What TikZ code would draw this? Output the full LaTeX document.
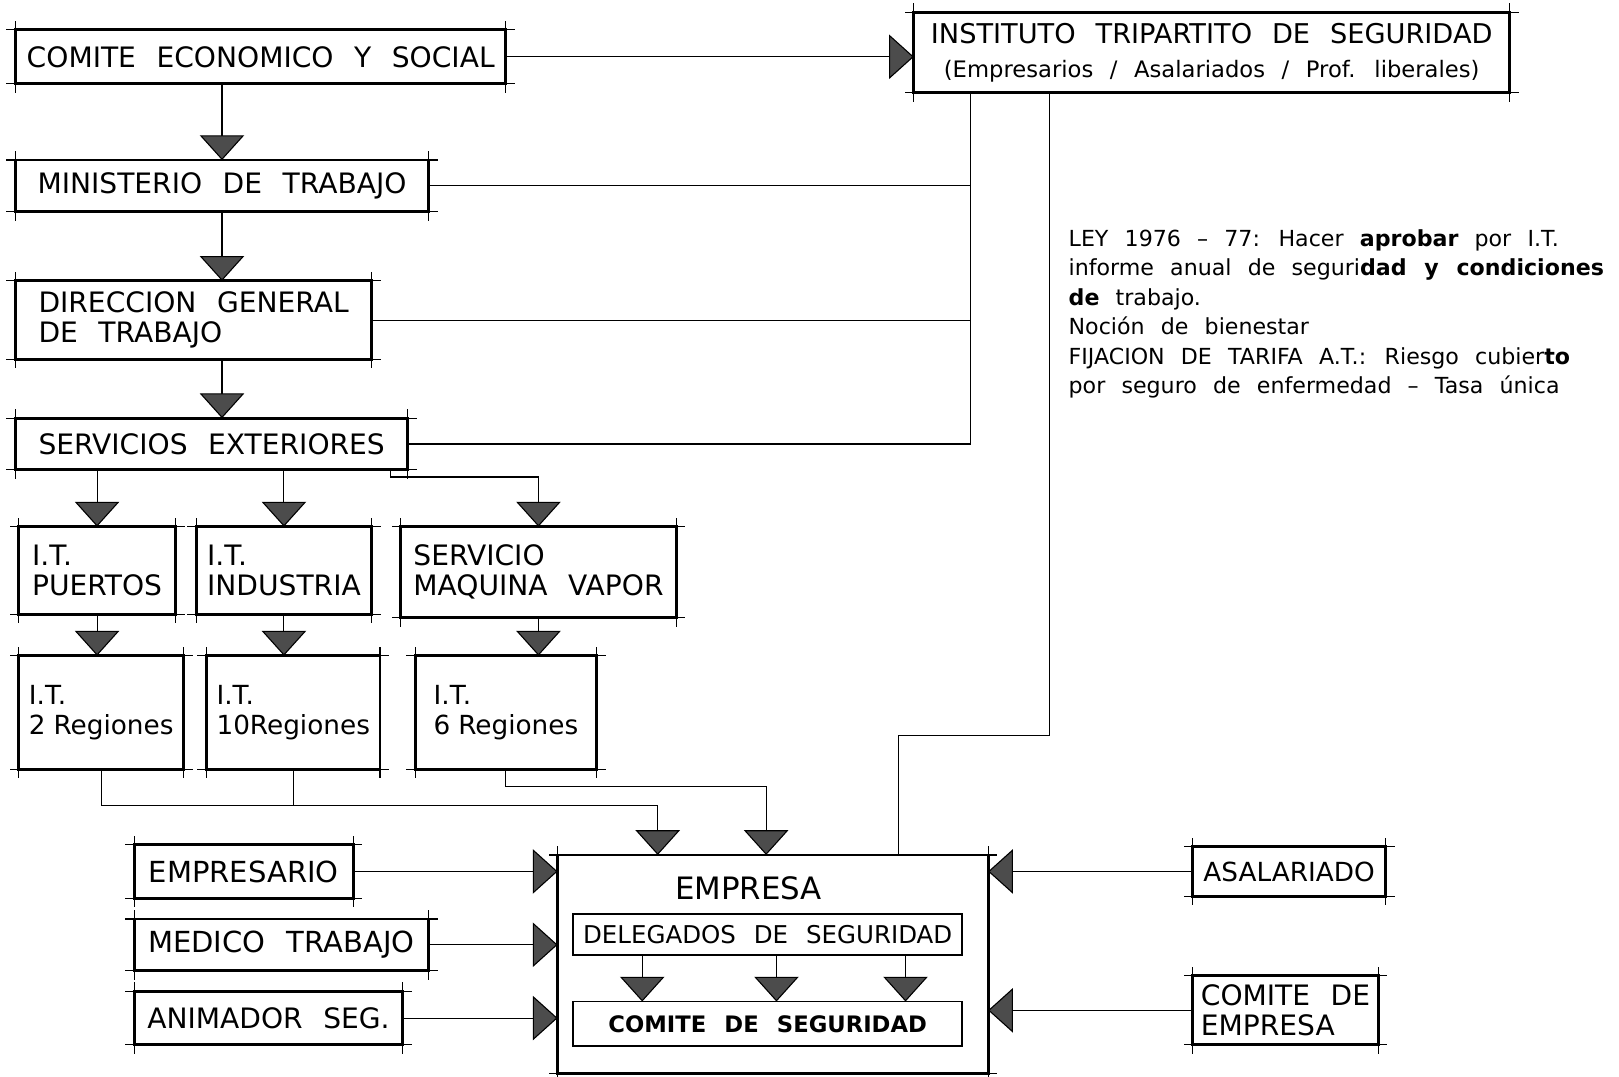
\documentclass[tikz,border=0pt]{standalone}
\usepackage{fontspec}
\setmainfont{DejaVu Sans}[WordSpace=2.3]
\usetikzlibrary{arrows.meta,calc}

\begin{document}
\begin{tikzpicture}[x=0.02cm,y=-0.02cm,every node/.style={outer sep=0pt},
 tick/.style={draw=black,line width=0.6pt},
 box/.style={draw,line width=1.6pt,inner sep=0pt,align=left,
  font=\fontsize{15.5}{16.5}\selectfont,
  append after command={
   (\tikzlastnode.north west) edge[tick] +(-5pt,0)
   (\tikzlastnode.north west) edge[tick] +(0,5pt)
   (\tikzlastnode.north east) edge[tick] +(5pt,0)
   (\tikzlastnode.north east) edge[tick] +(0,5pt)
   (\tikzlastnode.south west) edge[tick] +(-5pt,0)
   (\tikzlastnode.south west) edge[tick] +(0,-5pt)
   (\tikzlastnode.south east) edge[tick] +(5pt,0)
   (\tikzlastnode.south east) edge[tick] +(0,-5pt)}},
 inbox/.style={draw,line width=1pt,inner sep=0pt},
 link/.style={line width=0.6pt},
 flow/.style={link,-{Triangle[width=0.86cm,length=0.48cm,fill=black!70]}}]

\useasboundingbox (0,0) rectangle (1568,1043);

\node[box,minimum width=9.5cm,minimum height=1.04cm] (ces) at (252.5,55) {COMITE ECONOMICO Y SOCIAL};
\node[box,align=center,minimum width=11.54cm,minimum height=1.56cm,font=\fontsize{15}{19}\selectfont] (inst) at (1173.5,51)
 {INSTITUTO TRIPARTITO DE SEGURIDAD\\{\fontsize{12.5}{19}\selectfont(Empresarios / Asalariados / Prof. liberales)}};
\node[box,minimum width=8cm,minimum height=1cm] (min) at (215,180) {MINISTERIO DE TRABAJO};
\node[box,minimum width=6.9cm,minimum height=1.52cm] (dgt) at (187.5,310) {DIRECCION GENERAL\\DE TRABAJO};
\node[box,minimum width=7.6cm,minimum height=1cm] (se) at (205,430) {SERVICIOS EXTERIORES};

\node[box,minimum width=3.04cm,minimum height=1.7cm] (itp) at (94,552.5) {I.T.\\PUERTOS};
\node[box,minimum width=3.4cm,minimum height=1.7cm] (iti) at (275,552.5) {I.T.\\INDUSTRIA};
\node[box,minimum width=5.34cm,minimum height=1.76cm] (smv) at (521.5,554) {SERVICIO\\MAQUINA VAPOR};

\node[box,minimum width=3.2cm,minimum height=2.2cm,font=\fontsize{14.5}{16.5}\selectfont] (r2) at (98,690) {I.T.\\2\kern.3em Regiones};
\node[box,minimum width=3.36cm,minimum height=2.2cm,font=\fontsize{14.5}{16.5}\selectfont] (r10) at (284,690) {I.T.\\10Regiones};
\node[box,minimum width=3.52cm,minimum height=2.2cm,font=\fontsize{14.5}{16.5}\selectfont] (r6) at (490,690) {I.T.\\6\kern.3em Regiones};

\node[box,minimum width=8.34cm,minimum height=4.24cm] (emp) at (748.5,934) {};
\node[font=\fontsize{17}{20}\selectfont] (emplbl) at (725,860) {EMPRESA};
\node[inbox,minimum width=7.54cm,minimum height=0.8cm,font=\fontsize{13.5}{16}\selectfont] (deleg) at (743.5,905) {DELEGADOS DE SEGURIDAD};
\node[inbox,minimum width=7.54cm,minimum height=0.86cm,font=\fontsize{12.5}{16}\selectfont\bfseries] (cseg) at (743.5,991.5) {COMITE DE SEGURIDAD};

\node[box,minimum width=4.24cm,minimum height=1.04cm,font=\fontsize{16}{18}\selectfont] (empr) at (236,844) {EMPRESARIO};
\node[box,minimum width=5.7cm,minimum height=1cm,font=\fontsize{16}{18}\selectfont] (med) at (272.5,915) {MEDICO TRABAJO};
\node[box,minimum width=5.2cm,minimum height=1.04cm] (anim) at (260,986) {ANIMADOR SEG.};
\node[box,minimum width=3.74cm,minimum height=0.96cm,font=\fontsize{14.5}{16.5}\selectfont] (asal) at (1248.5,844) {ASALARIADO};
\node[box,minimum width=3.6cm,minimum height=1.34cm] (cemp) at (1245,978.5) {COMITE DE\\EMPRESA};

\node[anchor=north west,align=left,inner sep=0pt,font=\fontsize{12.2}{16.3}\selectfont] (notes) at (1035,222)
 {LEY 1976 – 77: Hacer \textbf{aprobar} por I.T.\\
  informe anual de seguri\textbf{dad y condiciones}\\
  \textbf{de} trabajo.\\
  Noción de bienestar\\
  FIJACION DE TARIFA A.T.: Riesgo cubier\textbf{to}\\
  por seguro de enfermedad – Tasa única};

\draw[flow] (ces.east) -- (ces.east -| inst.west);
\draw[flow] (min.north |- ces.south) -- (min.north);
\draw[flow] (min.south) -- (min.south |- dgt.north);
\draw[flow] (dgt.south -| min.south) -- (min.south |- se.north);

\coordinate (ta) at (inst.south -| 940,0);
\coordinate (tb) at (inst.south -| 1016,0);
\draw[link] (ta) |- (se.east);
\draw[link] (min.east) -- (min.east -| ta);
\draw[link] (dgt.east) -- (dgt.east -| ta);
\coordinate (kink) at (870,712);
\draw[link] (tb) |- (kink) -- (kink |- emp.north);

\draw[flow] (se.south -| itp.north) -- (itp.north);
\draw[flow] (se.south -| iti.north) -- (iti.north);
\coordinate (sefork) at (se.south -| 378,0);
\draw[flow] (sefork) -- ++(0,7) -| (smv.north);

\draw[flow] (itp.south) -- (itp.south |- r2.north);
\draw[flow] (iti.south) -- (iti.south |- r10.north);
\draw[flow] (smv.south) -- (smv.south |- r6.north);

\coordinate (ja) at (637,780);
\coordinate (jb) at (742,762);
\draw[link] (r2.south) |- (ja);
\draw[link] (r10.south) -- (r10.south |- ja);
\draw[flow] (ja) -- (ja |- emp.north);
\draw[flow] (r6.south) |- (jb) -- (jb |- emp.north);

\foreach \n in {empr,med,anim} \draw[flow] (\n.east) -- (\n.east -| emp.west);
\foreach \n in {asal,cemp} \draw[flow] (\n.west) -- (\n.west -| emp.east);
\foreach \x in {622,752,877} \draw[flow] (\x,0 |- deleg.south) -- (\x,0 |- cseg.north);

\end{tikzpicture}
\end{document}
